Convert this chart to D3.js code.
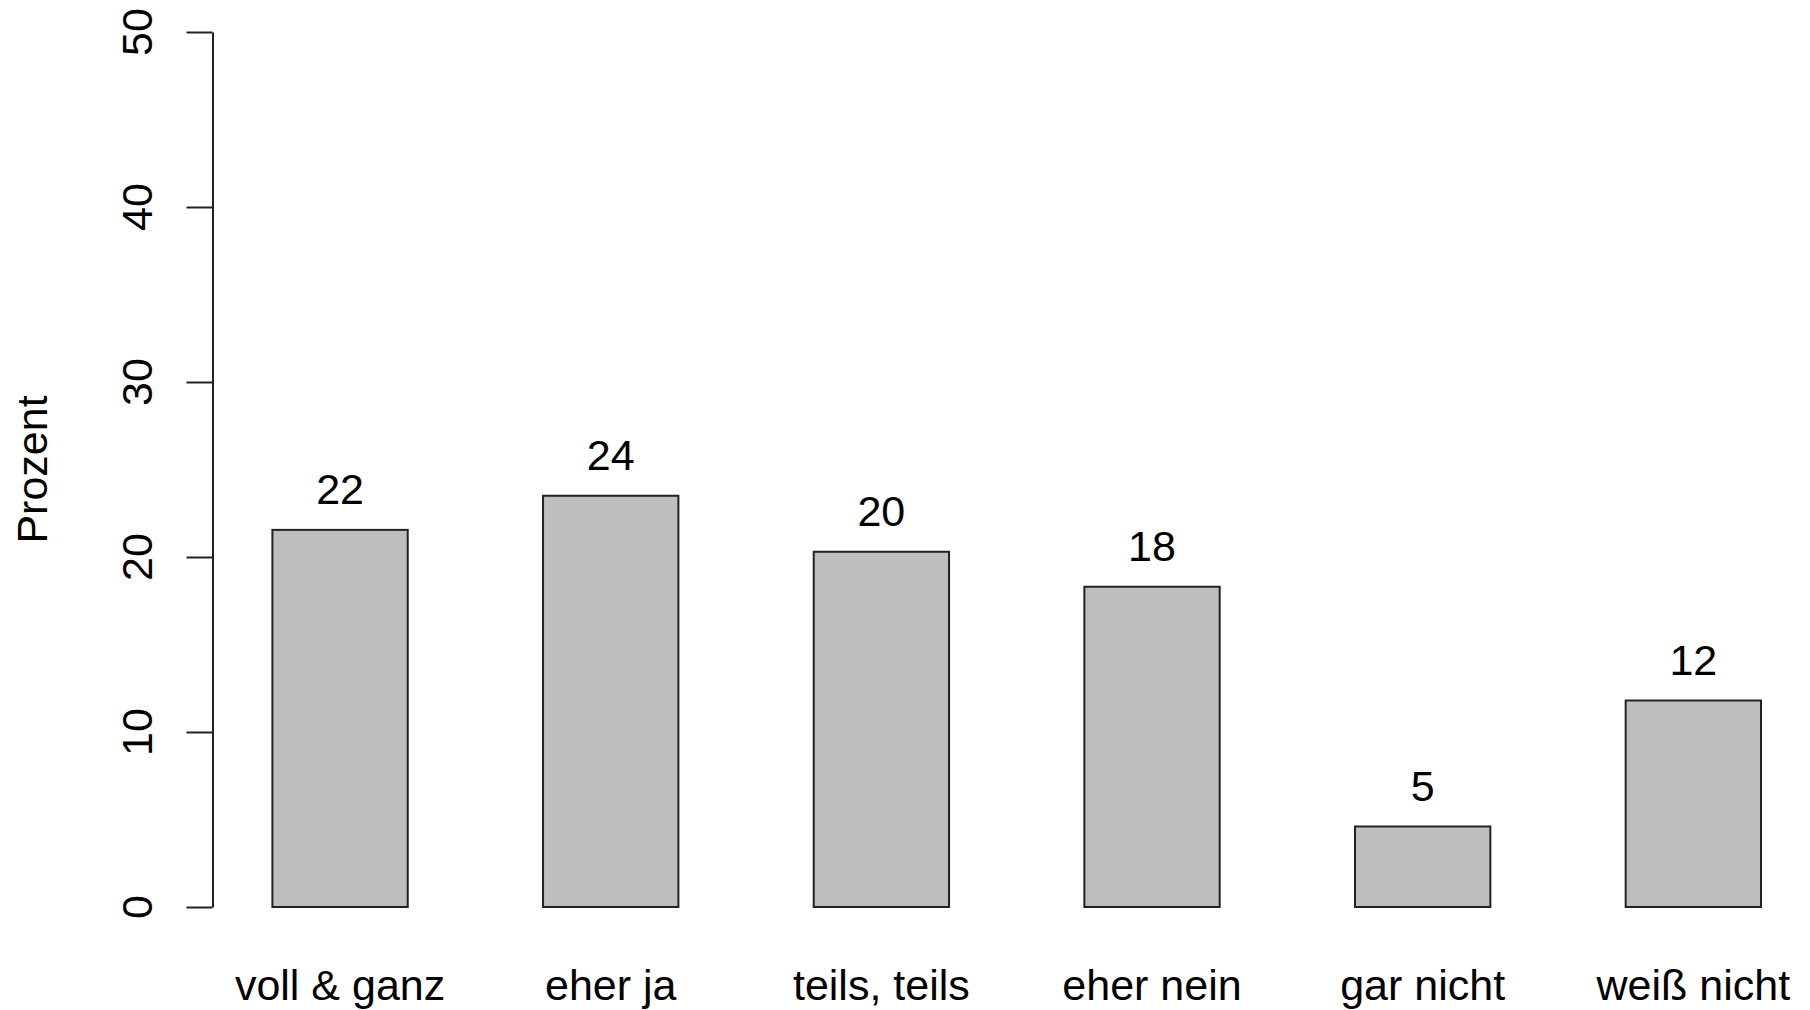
<!DOCTYPE html>
<html>
<head>
<meta charset="utf-8">
<script src="https://cdn.jsdelivr.net/npm/d3@7"></script>
<style>
  body { margin: 0; background: #fff; }
  svg text { font-family: "Liberation Sans", Arial, Helvetica, sans-serif; fill: #000; }
</style>
</head>
<body>
<svg id="chart" width="1810" height="1010"></svg>
<script>
// Data
const categories = ["voll & ganz", "eher ja", "teils, teils", "eher nein", "gar nicht", "weiß nicht"];
const values = [21.55, 23.5, 20.3, 18.3, 4.6, 11.8];
const valueLabels = ["22", "24", "20", "18", "5", "12"];
const yTicks = [0, 10, 20, 30, 40, 50];
const yTitle = "Prozent";

const svg = d3.select("#chart");
const fontSize = 43;
const ink = "#222";

// Scales
const x = d3.scaleBand()
  .domain(categories)
  .range([272.4, 1761])
  .paddingInner(0.5)
  .paddingOuter(0);

const y = d3.scaleLinear()
  .domain([0, 50])
  .range([907, 32]);

// Y axis
const axisX = 212.5;
const yAxis = svg.append("g")
  .attr("transform", `translate(${axisX},0)`)
  .call(d3.axisLeft(y).tickValues(yTicks).tickSize(26).tickSizeOuter(0).tickFormat(""));

yAxis.selectAll("path, line")
  .attr("stroke", ink)
  .attr("stroke-width", 2);

// Rotated tick labels like base R
svg.append("g")
  .selectAll("text")
  .data(yTicks)
  .join("text")
    .attr("transform", d => `translate(152,${y(d)}) rotate(-90)`)
    .attr("text-anchor", "middle")
    .attr("font-size", fontSize)
    .text(d => d);

// Axis title
svg.append("text")
  .attr("transform", `translate(47,${(y(0) + y(50)) / 2}) rotate(-90)`)
  .attr("text-anchor", "middle")
  .attr("font-size", fontSize)
  .text(yTitle);

// Bars
const rows = categories.map((c, i) => ({ cat: c, value: values[i], label: valueLabels[i] }));

svg.append("g")
  .selectAll("rect")
  .data(rows)
  .join("rect")
    .attr("x", d => x(d.cat))
    .attr("y", d => y(d.value))
    .attr("width", x.bandwidth())
    .attr("height", d => y(0) - y(d.value))
    .attr("fill", "#bebebe")
    .attr("stroke", ink)
    .attr("stroke-width", 2);

// Value labels above bars
svg.append("g")
  .selectAll("text")
  .data(rows)
  .join("text")
    .attr("x", d => x(d.cat) + x.bandwidth() / 2)
    .attr("y", d => y(d.value) - 26)
    .attr("text-anchor", "middle")
    .attr("font-size", fontSize)
    .text(d => d.label);

// Category names
svg.append("g")
  .selectAll("text")
  .data(categories)
  .join("text")
    .attr("x", d => x(d) + x.bandwidth() / 2)
    .attr("y", 1000)
    .attr("text-anchor", "middle")
    .attr("font-size", fontSize)
    .text(d => d);
</script>
</body>
</html>
